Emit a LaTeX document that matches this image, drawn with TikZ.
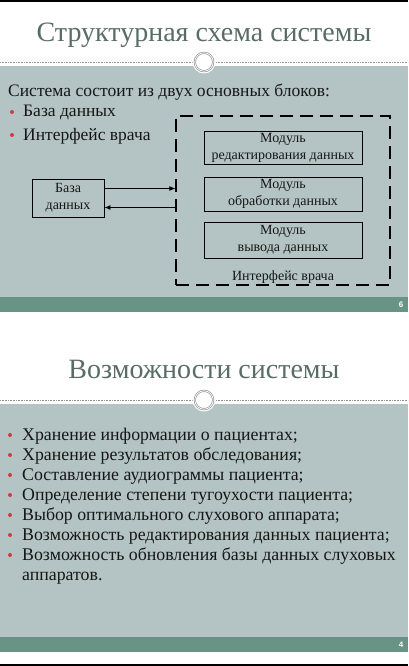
\documentclass[tikz,border=0pt]{standalone}
\usepackage{fontspec}
\setmainfont{Liberation Serif}
\setsansfont{Liberation Sans}
\usetikzlibrary{arrows.meta,calc}
\definecolor{titlec}{RGB}{90,108,102}
\definecolor{bodybg}{RGB}{180,196,196}
\definecolor{footc}{RGB}{104,148,134}
\definecolor{bulc}{RGB}{205,62,66}
\definecolor{sepc}{RGB}{150,150,150}
\definecolor{txtc}{RGB}{22,22,22}
\tikzset{
  slidetitle/.style={text=titlec, font=\fontsize{28}{32}\selectfont, anchor=base, inner sep=0pt},
  sepline/.style={sepc, line width=0.6pt, dash pattern=on 0.8pt off 0.8pt},
  sepring/.style={sepc, line width=0.7pt, double=white, double distance=0.7pt},
  bodytxt/.style={text=txtc, anchor=base west, inner sep=0pt},
  introtxt/.style={bodytxt, font=\fontsize{17.5}{20}\selectfont},
  bultxt/.style={bodytxt, font=\fontsize{17.8}{20}\selectfont},
  bulldot/.style={fill=bulc, circle, inner sep=0pt, minimum size=4pt},
  modbox/.style={draw=black, line width=0.9pt, minimum width=158pt, align=center, text=txtc,
                 font=\fontsize{14}{17}\selectfont, inner sep=0pt},
  dbbox/.style={draw=black, line width=0.9pt, minimum width=72pt, minimum height=38pt, align=center,
                text=txtc, font=\fontsize{14}{17}\selectfont, inner sep=0pt},
  ifacebox/.style={draw=black, line width=1.2pt, dash pattern=on 13pt off 7pt, minimum width=214pt,
                   minimum height=169pt, inner sep=0pt},
  flow/.style={black, line width=0.9pt, -{Latex[length=6pt,width=5pt]}},
  pagenum/.style={text=white, font=\sffamily\bfseries\fontsize{8}{9}\selectfont, inner sep=0pt}
}
\begin{document}
\begin{tikzpicture}[x=1pt,y=-1pt]
\useasboundingbox (0,0) rectangle (408,666);
\fill[white] (0,0) rectangle (408,666);
\fill[black] (0,0) rectangle (408,2);
\fill[black] (0,663.5) rectangle (408,666);

% ---------------- slide 1 ----------------
\fill[bodybg] (0,66) rectangle (408,297);
\fill[footc] (0,297) rectangle (408,312);
\node[slidetitle] (t1) at (204,42) {Структурная схема системы};
\draw[sepline] (0,62) -- (408,62);
\fill[white] (204,62) circle (11.5);
\draw[sepring] (204,62) circle (9.2);
\node[pagenum] (p1) at (401,305) {6};

\node[introtxt] (intro) at (8,97) {Система состоит из двух основных блоков:};
\node[bulldot] (b11) at (12,112) {};
\node[introtxt] (l11) at (23,117) {База данных};
\node[bulldot] (b12) at (12,135) {};
\node[introtxt] (l12) at (23,140) {Интерфейс врача};

\node[ifacebox] (iface) at (283,200.5) {};
\node[modbox, minimum height=33pt] (m1) at (283,147.5) {Модуль\\редактирования данных};
\node[modbox, minimum height=34pt] (m2) at (283,194) {Модуль\\обработки данных};
\node[modbox, minimum height=36pt] (m3) at (283,240) {Модуль\\вывода данных};
\node[text=txtc, font=\fontsize{14}{17}\selectfont, inner sep=0pt] (ilab) at (283,277) {Интерфейс врача};

\node[dbbox] (db) at (68,198) {База\\данных};
\draw[flow] ([yshift=9.5pt]db.east) -- ([yshift=9.5pt]db.east -| iface.west);
\draw[flow] ([yshift=-9.5pt]db.east -| iface.west) -- ([yshift=-9.5pt]db.east);

% ---------------- slide 2 ----------------
\fill[bodybg] (0,404) rectangle (408,637);
\fill[footc] (0,637) rectangle (408,652);
\node[slidetitle] (t2) at (204,378) {Возможности системы};
\draw[sepline] (0,400) -- (408,400);
\fill[white] (204,400) circle (11.5);
\draw[sepring] (204,400) circle (9.2);
\node[pagenum] (p2) at (401,645) {4};

\node[bulldot] (b1) at (10,435) {};
\node[bultxt] (s1) at (22,440) {Хранение информации о пациентах;};
\node[bulldot] (b2) at (10,455) {};
\node[bultxt] (s2) at (22,460) {Хранение результатов обследования;};
\node[bulldot] (b3) at (10,475) {};
\node[bultxt] (s3) at (22,480) {Составление аудиограммы пациента;};
\node[bulldot] (b4) at (10,495) {};
\node[bultxt] (s4) at (22,500) {Определение степени тугоухости пациента;};
\node[bulldot] (b5) at (10,515) {};
\node[bultxt] (s5) at (22,520) {Выбор оптимального слухового аппарата;};
\node[bulldot] (b6) at (10,535) {};
\node[bultxt] (s6) at (22,540) {Возможность редактирования данных пациента;};
\node[bulldot] (b7) at (10,555) {};
\node[bultxt] (s7) at (22,560) {Возможность обновления базы данных слуховых};
\node[bultxt] (s8) at (22,580) {аппаратов.};
\end{tikzpicture}
\end{document}
